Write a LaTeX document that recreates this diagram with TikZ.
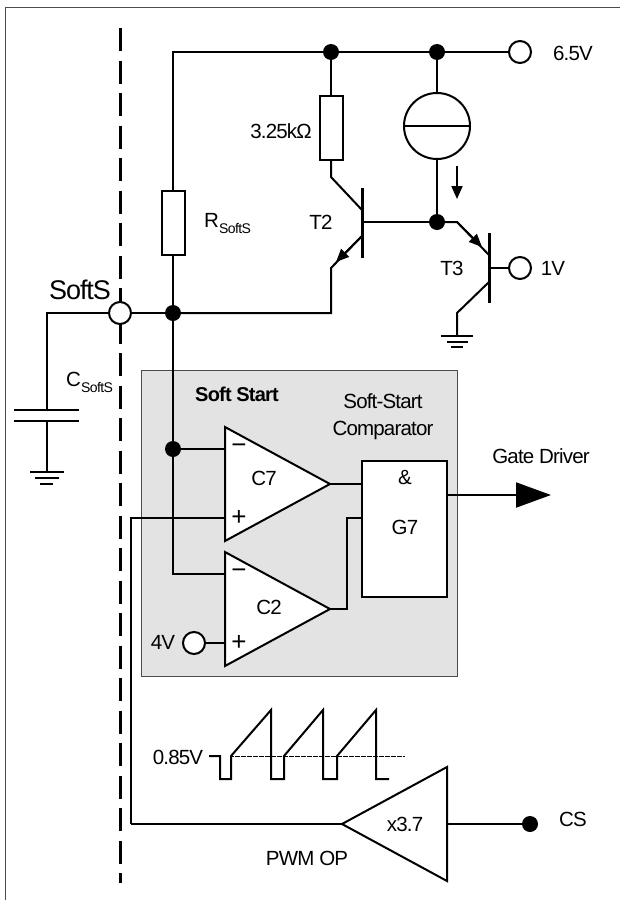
\documentclass[tikz,border=0pt]{standalone}
\usepackage{fontspec}
\setmainfont[LetterSpace=-4]{Liberation Sans}
\usetikzlibrary{arrows.meta}
\newcommand{\lowtext}[1]{\raisebox{-6pt}{\fontsize{14}{14}\selectfont #1}}
\tikzset{
  wire/.style={line width=2pt},
  bar/.style={line width=3pt},
  term/.style={circle,draw,fill=white,line width=2pt,minimum size=22pt,inner sep=0pt},
  dot/.style={circle,fill=black,minimum size=16pt,inner sep=0pt},
  res/.style={rectangle,draw,fill=white,line width=2pt,minimum width=23pt,minimum height=64pt,inner sep=0pt},
  txt/.style={font=\fontsize{20.5}{22}\selectfont,inner sep=0pt},
  sign/.style={font=\fontsize{26}{26}\selectfont,inner sep=0pt},
  amp/.style={draw,fill=white,line width=2pt,line join=miter},
  smallhead/.style={-{Triangle[length=13pt,width=11pt]}}
}
\begin{document}
\begin{tikzpicture}[x=1pt,y=-1pt]
\useasboundingbox (0,0) rectangle (620,900);
% cadre
\coordinate (frameb) at (5,900);
\coordinate (framec) at (5,7);
\coordinate (framer) at (620,7);
\draw [line width=1pt,black!70] (frameb) -- (framec) -- (framer);
\draw [line width=1pt,black!70,fill=black!11] (141.5,370) rectangle (457,676);
\coordinate (sepa) at (120,28);
\coordinate (sepb) at (120,883);
\draw [line width=3pt,dash pattern=on 23pt off 9.5pt] (sepa) -- (sepb);
% noeuds
\node [term] (vsup) at (520,52) {};
\node [dot] (dota) at (331,52) {};
\node [dot] (dotb) at (437,52) {};
\node [res] (rsoft) at (173,223) {};
\node [res] (rtop) at (331,128) {};
\node [term] (softs) at (120,313) {};
\node [dot] (dotsoft) at (173,313) {};
\node [dot] (dotbase) at (437,222) {};
\node [dot] (dotneg) at (173,449) {};
\node [circle,draw,fill=white,line width=2pt,minimum size=66pt,inner sep=0pt] (isrc) at (437,126) {};
\node [term] (vone) at (520,268) {};
\node [term] (vfour) at (194,643) {};
\node [dot] (dotcs) at (530,824) {};
\node [rectangle,draw,fill=white,line width=2pt,minimum width=85pt,minimum height=136pt,inner sep=0pt] (gseven) at (404.5,529) {};
% rail et T2
\draw [wire] (rsoft.north) |- (dota);
\draw [wire] (dota) -- (dotb) -- (vsup);
\draw [wire] (dota) -- (rtop);
\draw [wire] (dotb) -- (isrc);
\draw [wire] (isrc) -- (dotbase);
\draw [wire] (isrc.west) -- (isrc.east);
\draw [wire] (rsoft) -- (dotsoft);
\draw [wire] (softs) -- (dotsoft);
\coordinate (ttwoc) at (331,177);
\coordinate (ttwob) at (362,210);
\coordinate (ttwoe) at (362,236);
\coordinate (ttwok) at (331,268);
\coordinate (ttwot) at (362,188);
\coordinate (ttwou) at (362,258);
\coordinate (ttwoh) at (336,262);
\coordinate (ttwom) at (362,222);
\draw [wire] (rtop) -- (ttwoc) -- (ttwob);
\draw [bar] (ttwot) -- (ttwou);
\draw [wire] (ttwom) -- (dotbase);
\draw [wire] (ttwoe) -- (ttwok) |- (dotsoft);
\draw [wire,smallhead] (ttwoe) -- (ttwoh);
% T3
\coordinate (tthrc) at (457,222);
\coordinate (tthrb) at (489,255);
\coordinate (tthre) at (489,282);
\coordinate (tthrk) at (457,313);
\coordinate (tthrt) at (489,233);
\coordinate (tthru) at (489,303);
\coordinate (tthrh) at (482,247);
\coordinate (tthrm) at (489,268);
\coordinate (gndr) at (457,336);
\draw [wire] (dotbase) -- (tthrc) -- (tthrb);
\draw [wire,smallhead] (tthrc) -- (tthrh);
\draw [bar] (tthrt) -- (tthru);
\draw [wire] (tthrm) -- (vone);
\draw [wire] (tthre) -- (tthrk) -- (gndr);
\draw [wire] (441,336) -- (473,336);
\draw [wire] (447,342) -- (468,342);
\draw [wire] (451,347) -- (463,347);
\coordinate (isa) at (457,166);
\coordinate (isb) at (457,199);
\draw [wire,smallhead] (isa) -- (isb);
% condensateur
\coordinate (capa) at (47,410);
\coordinate (capb) at (47,421);
\coordinate (gndl) at (47,472);
\draw [wire] (softs) -| (capa);
\draw [wire] (capb) -- (gndl);
\draw [line width=2pt] (14,410) -- (79,410);
\draw [line width=2pt] (14,421) -- (79,421);
\draw [wire] (30,472) -- (64,472);
\draw [wire] (35,478) -- (59,478);
\draw [wire] (40,484) -- (53,484);
% comparateurs
\coordinate (csevn) at (225,449);
\coordinate (csevp) at (225,518);
\coordinate (csevt) at (330,484);
\coordinate (ctwon) at (225,574);
\coordinate (ctwop) at (225,643);
\coordinate (ctwot) at (330,609);
\coordinate (gsevi) at (362,484);
\coordinate (gsevj) at (362,518);
\coordinate (pwmt) at (342,824);
\coordinate (pwmr) at (447,824);
\coordinate (cswire) at (131,824);
\coordinate (gate) at (551,495);
\coordinate (gsevo) at (447,495);
\draw [wire] (dotsoft) -- (dotneg);
\draw [wire] (dotneg) |- (ctwon);
\draw [wire] (dotneg) -- (csevn);
\draw [wire] (cswire) |- (csevp);
\draw [wire] (cswire) -- (pwmt);
\draw [wire] (vfour) -- (ctwop);
\draw [amp] (225,427) -- (csevt) -- (225,541) -- cycle;
\draw [amp] (225,552) -- (ctwot) -- (225,666) -- cycle;
\draw [wire] (csevt) -- (gsevi);
\draw [wire] (ctwot) -- (347,609) |- (gsevj);
\draw [wire,-{Triangle[length=35pt,width=25pt]}] (gsevo) -- (gate);
\draw [amp] (pwmt) -- (447,767) -- (447,881) -- cycle;
\draw [wire] (pwmr) -- (dotcs);
% dent de scie
\draw [wire,line join=miter] (209,756) -- (220,756) -- (220,779) -- (231,779) -- (231,756) -- (271,710) -- (271,779) -- (284,779) -- (284,756) -- (323,710) -- (323,779) -- (337,779) -- (337,756) -- (376,710) -- (376,779) -- (389,779);
\draw [very thin,densely dotted] (231,756) -- (404,756);
% textes
\node [txt] (lvsup) at (573,53) {6.5V};
\node [txt] (lrtop) at (281,131) {3.25kΩ};
\node [txt,anchor=west] (lrsoft) at (204,224) {R\lowtext{SoftS}};
\node [txt] (ltwo) at (321,222) {T2};
\node [txt] (lthr) at (452,268) {T3};
\node [txt] (lone) at (553,268) {1V};
\node [txt,font=\fontsize{27}{28}\selectfont] (lsofts) at (80,290) {SoftS};
\node [txt,anchor=west] (lcsoft) at (66,382) {C\lowtext{SoftS}};
\node [txt,font=\fontsize{20}{22}\bfseries] (lblock) at (237,394) {Soft Start};
\node [txt] (lcompa) at (383,401) {Soft-Start};
\node [txt] (lcompb) at (383,430) {Comparator};
\node [txt] (lgate) at (541,456) {Gate Driver};
\node [txt] (lamp) at (405,478) {\&};
\node [txt] (lgsev) at (405,527) {G7};
\node [txt] (lcsev) at (264,478) {C7};
\node [txt] (lctwo) at (269,607) {C2};
\node [txt] (lfour) at (163,642) {4V};
\node [sign] (lcsevn) at (239,449) {−};
\node [sign] (lcsevp) at (239,518) {+};
\node [sign] (lctwon) at (239,574) {−};
\node [sign] (lctwop) at (239,643) {+};
\node [txt] (lref) at (178,757) {0.85V};
\node [txt] (lgain) at (405,824) {x3.7};
\node [txt] (lpwm) at (307,858) {PWM OP};
\node [txt] (lcs) at (573,819) {CS};
\end{tikzpicture}
\end{document}
